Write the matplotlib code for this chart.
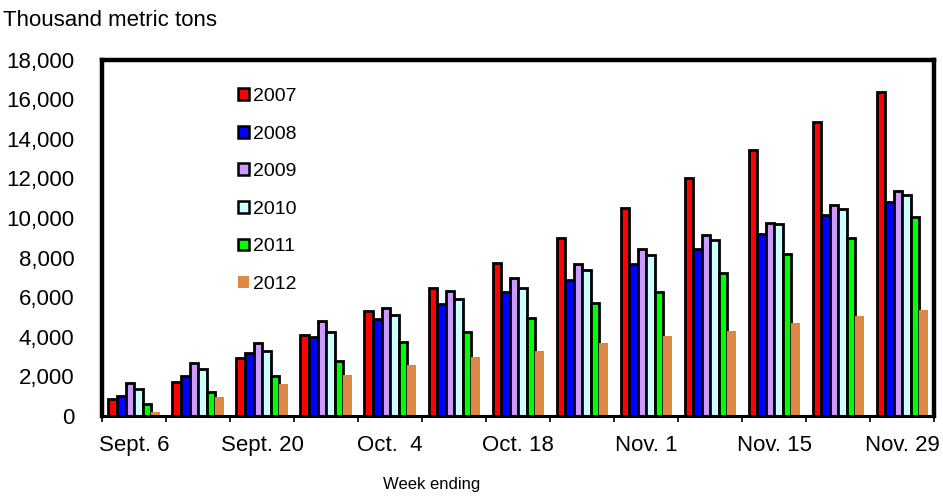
import numpy as np
import matplotlib.pyplot as plt
from matplotlib.patches import Patch
from matplotlib.ticker import FuncFormatter

plt.rcParams['font.family'] = ['Liberation Sans', 'DejaVu Sans']

weeks = ['Sept. 6', 'Sept. 13', 'Sept. 20', 'Sept. 27', 'Oct.  4', 'Oct. 11', 'Oct. 18',
         'Oct. 25', 'Nov. 1', 'Nov. 8', 'Nov. 15', 'Nov. 22', 'Nov. 29']
years = ['2007', '2008', '2009', '2010', '2011', '2012']

y2007 = [850, 1700, 2910, 4090, 5280, 6440, 7740, 8970, 10510, 12040, 13430, 14860, 16380]
y2008 = [1010, 2000, 3160, 3990, 4870, 5630, 6240, 6880, 7670, 8430, 9210, 10140, 10830]
y2009 = [1660, 2670, 3650, 4800, 5460, 6300, 6960, 7670, 8450, 9140, 9760, 10660, 11370]
y2010 = [1350, 2340, 3280, 4240, 5070, 5900, 6460, 7370, 8110, 8890, 9680, 10470, 11160]
y2011 = [590, 1190, 2020, 2780, 3710, 4240, 4940, 5680, 6270, 7220, 8190, 9000, 10070]
y2012 = [200, 940, 1600, 2040, 2540, 2960, 3250, 3660, 4040, 4280, 4680, 5050, 5360]

series = [y2007, y2008, y2009, y2010, y2011, y2012]
colors = ['#FF0000', '#0000FF', '#CC99FF', '#CCFFFF', '#00FF00', '#DD8844']
edges = ['black'] * 5 + ['none']

fig = plt.figure(figsize=(9.43, 4.99), dpi=100)
ax = fig.add_axes([0.1082, 0.1673, 0.8823, 0.7125])

x = np.arange(len(weeks))
w = 0.133
for i, (vals, c, ec) in enumerate(zip(series, colors, edges)):
    ax.bar(x + (i - 2.5) * w, vals, w, color=c, edgecolor=ec, linewidth=2.0, zorder=2)

ax.set_xlim(-0.5, len(weeks) - 0.5)
ax.set_ylim(0, 18000)
ax.set_yticks(np.arange(0, 18001, 2000))
ax.yaxis.set_major_formatter(FuncFormatter(lambda v, p: '{:,.0f}'.format(v)))
ax.tick_params(axis='y', length=0, pad=20, labelsize=16)

# ticks at group boundaries, labels every other week at group centres
ax.set_xticks(np.arange(-0.5, len(weeks), 1.0))
ax.set_xticklabels([])
ax.tick_params(axis='x', which='major', length=4, width=1.2, direction='out')
ax.set_xticks(x[::2], minor=True)
ax.set_xticklabels(weeks[::2], minor=True)
ax.tick_params(axis='x', which='minor', length=0, pad=14, labelsize=16)

for s in ['left', 'top', 'right']:
    ax.spines[s].set_linewidth(3.2)
ax.spines['bottom'].set_linewidth(2.2)

handles = [Patch(facecolor=c, edgecolor=ec, linewidth=1.8) for c, ec in zip(colors, edges)]
fig.legend(handles, years, loc='upper left', bbox_to_anchor=(238 / 943, 1 - 88 / 499),
           frameon=False, fontsize=14, handlelength=0.55, handleheight=0.55,
           handletextpad=0.2, labelspacing=1.06, borderpad=0, borderaxespad=0)

fig.text(3 / 943, 1 - 20 / 499, 'Thousand metric tons', fontsize=16, va='center', ha='left')
fig.text(432 / 943, 1 - 484 / 499, 'Week ending', fontsize=12, va='center', ha='center')

plt.savefig('out.png', dpi=100)
